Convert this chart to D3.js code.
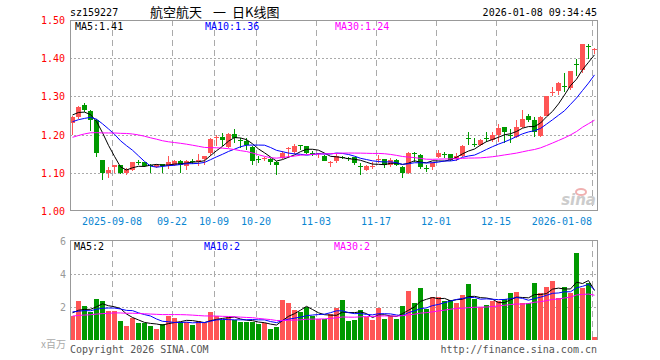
<!DOCTYPE html>
<html>
<head>
<meta charset="utf-8">
<script src="https://cdn.jsdelivr.net/npm/d3@7/dist/d3.min.js"></script>
<style>
  body { margin: 0; background: #fff; }
  text { font-family: "DejaVu Sans Mono", monospace; font-size: 10px; }
</style>
</head>
<body>
<div id="chart-area"></div>
<script>
const dates = ['2025-08-28','2025-08-29','2025-09-01','2025-09-02','2025-09-03','2025-09-04','2025-09-05','2025-09-08','2025-09-09','2025-09-10',
  '2025-09-11','2025-09-12','2025-09-15','2025-09-16','2025-09-17','2025-09-18','2025-09-19','2025-09-22','2025-09-23','2025-09-24',
  '2025-09-25','2025-09-26','2025-09-29','2025-09-30','2025-10-09','2025-10-10','2025-10-13','2025-10-14','2025-10-15','2025-10-16',
  '2025-10-17','2025-10-20','2025-10-21','2025-10-22','2025-10-23','2025-10-24','2025-10-27','2025-10-28','2025-10-29','2025-10-30',
  '2025-10-31','2025-11-03','2025-11-04','2025-11-05','2025-11-06','2025-11-07','2025-11-10','2025-11-11','2025-11-12','2025-11-13',
  '2025-11-14','2025-11-17','2025-11-18','2025-11-19','2025-11-20','2025-11-21','2025-11-24','2025-11-25','2025-11-26','2025-11-27',
  '2025-11-28','2025-12-01','2025-12-02','2025-12-03','2025-12-04','2025-12-05','2025-12-08','2025-12-09','2025-12-10','2025-12-11',
  '2025-12-12','2025-12-15','2025-12-16','2025-12-17','2025-12-18','2025-12-19','2025-12-22','2025-12-23','2025-12-24','2025-12-25',
  '2025-12-26','2025-12-29','2025-12-30','2025-12-31','2026-01-05','2026-01-06','2026-01-07','2026-01-08'];

const open = [1.23,1.245,1.277,1.262,1.238,1.134,1.10,1.114,1.12,1.10,
  1.107,1.128,1.128,1.12,1.116,1.122,1.118,1.121,1.132,1.117,
  1.131,1.127,1.135,1.151,1.19,1.195,1.168,1.202,1.186,1.183,
  1.168,1.136,1.136,1.137,1.129,1.138,1.162,1.155,1.173,1.17,
  1.153,1.15,1.145,1.125,1.13,1.142,1.139,1.141,1.117,1.107,
  1.115,1.133,1.135,1.12,1.134,1.116,1.10,1.152,1.147,1.113,
  1.116,1.142,1.15,1.149,1.135,1.144,1.19,1.176,1.173,1.19,
  1.186,1.199,1.219,1.20,1.193,1.221,1.249,1.238,1.196,1.249,
  1.31,1.315,1.326,1.321,1.386,1.369,1.433,1.421];

const high = [1.25,1.276,1.282,1.265,1.24,1.134,1.116,1.121,1.12,1.113,
  1.128,1.133,1.128,1.122,1.123,1.124,1.144,1.133,1.133,1.133,
  1.136,1.148,1.145,1.19,1.198,1.205,1.205,1.215,1.19,1.19,
  1.17,1.145,1.142,1.14,1.13,1.158,1.168,1.175,1.174,1.17,
  1.158,1.153,1.146,1.13,1.15,1.145,1.142,1.142,1.125,1.12,
  1.127,1.147,1.137,1.138,1.135,1.117,1.155,1.154,1.148,1.12,
  1.129,1.16,1.155,1.15,1.151,1.172,1.208,1.19,1.188,1.208,
  1.208,1.227,1.219,1.215,1.238,1.264,1.254,1.245,1.25,1.302,
  1.325,1.339,1.362,1.367,1.397,1.437,1.437,1.426];

const low = [1.20,1.24,1.26,1.21,1.142,1.081,1.087,1.099,1.097,1.094,
  1.105,1.12,1.115,1.10,1.113,1.10,1.111,1.117,1.10,1.107,
  1.124,1.118,1.12,1.145,1.17,1.17,1.165,1.178,1.165,1.16,
  1.12,1.125,1.13,1.12,1.095,1.135,1.14,1.15,1.16,1.15,
  1.145,1.14,1.13,1.115,1.125,1.135,1.132,1.12,1.094,1.105,
  1.11,1.125,1.113,1.116,1.118,1.086,1.098,1.129,1.11,1.103,
  1.107,1.14,1.138,1.13,1.132,1.142,1.173,1.167,1.171,1.181,
  1.181,1.18,1.179,1.179,1.19,1.217,1.234,1.195,1.195,1.249,
  1.301,1.304,1.312,1.317,1.353,1.36,1.397,1.411];

const close = [1.247,1.273,1.264,1.238,1.151,1.099,1.107,1.12,1.10,1.111,
  1.128,1.126,1.118,1.117,1.121,1.118,1.128,1.13,1.121,1.131,
  1.129,1.134,1.143,1.188,1.195,1.186,1.202,1.19,1.183,1.173,
  1.132,1.134,1.14,1.128,1.12,1.151,1.165,1.17,1.171,1.151,
  1.151,1.153,1.132,1.129,1.144,1.141,1.138,1.125,1.116,1.118,
  1.117,1.135,1.12,1.134,1.12,1.099,1.153,1.151,1.116,1.112,
  1.125,1.151,1.149,1.134,1.144,1.17,1.188,1.175,1.186,1.189,
  1.198,1.217,1.208,1.199,1.219,1.241,1.238,1.208,1.245,1.301,
  1.312,1.336,1.325,1.367,1.385,1.437,1.432,1.423];

// volume, millions
const volume = [1.45,2.36,2.06,1.72,2.48,2.36,1.76,1.76,1.15,0.85,
  1.31,1.01,1.01,0.85,0.67,0.97,1.47,1.33,1.11,1.07,
  0.91,1.17,1.01,1.70,1.45,1.21,1.40,1.20,1.10,1.10,
  1.07,0.97,1.01,0.67,0.81,2.42,2.26,1.82,1.72,1.98,
  1.47,1.25,1.25,1.58,1.94,2.42,1.15,1.21,1.82,1.41,
  1.21,1.94,1.27,1.45,1.27,2.06,2.97,2.26,3.15,1.90,
  2.60,2.60,2.36,2.42,2.24,2.73,3.39,2.46,2.02,2.12,
  2.36,2.36,2.48,2.87,2.93,2.24,2.26,3.47,2.87,3.23,
  3.58,2.57,3.21,2.87,5.29,3.17,3.47,0.20];

// sessions before the first visible day (only feed the moving averages)
const prevClose = [1.13,1.14,1.15,1.14,1.12,1.11,1.12,1.13,1.12,
  1.17,1.20,1.22,1.24,1.23,1.24,
  1.21,1.19,1.18,1.20,1.21,1.22,1.23,1.21,1.20,1.22,
  1.24,1.26,1.27,1.24];
const prevVolume = [1.2,1.4,1.1,1.3,1.5,1.2,1.0,1.3,1.4,1.2,
  1.5,1.6,1.3,1.2,1.4,1.5,1.3,1.2,1.4,1.5,
  1.9,1.7,1.8,1.6,1.75,1.6,1.8,1.7,1.7];

const priceTicks = [1.00, 1.10, 1.20, 1.30, 1.40, 1.50];
const volTicks = [2, 4, 6];
const dateTicks = ['2025-09-08','2025-09-22','2025-10-09','2025-10-20','2025-11-03','2025-11-17','2025-12-01','2025-12-15','2026-01-08'];
const maPeriods = [5, 10, 30];
const maColors = ['#000000', '#0000ff', '#ff00ff'];
const priceLegend = ['MA5:1.41', 'MA10:1.36', 'MA30:1.24'];
const volLegend = ['MA5:2', 'MA10:2', 'MA30:2'];
const titleParts = ['航空航天', '一', '日K线图'];

const RED = '#ff5555', GREEN = '#009900', GRID = '#aaaaaa', BORDER = '#999999';

const svg = d3.select('#chart-area').append('svg')
  .attr('width', 660).attr('height', 360)
  .style('display', 'block');

const left = 70, right = 597;
const x = d3.scaleBand().domain(dates).range([left, left + dates.length * 6]);
const y = d3.scaleLinear().domain([1.0, 1.5]).range([211, 20]);
const yv = d3.scaleLinear().domain([0, 6]).range([340, 241]);
const cx = d => x(d) + 2.5;

function movingAvg(prev, cur, n) {
  const all = prev.concat(cur);
  return cur.map((_, i) => d3.mean(all.slice(prev.length + i - n + 1, prev.length + i + 1)));
}

// header
svg.append('text').attr('x', 70).attr('y', 16).text('sz159227');
const titleX = [150, 213, 232];
titleParts.forEach((t, i) => {
  svg.append('text').attr('x', titleX[i]).attr('y', 17)
    .style('font-family', '"Noto Sans CJK SC", sans-serif').style('font-size', '13px')
    .text(t);
});
svg.append('text').attr('x', 597).attr('y', 16).attr('text-anchor', 'end').text('2026-01-08 09:34:45');

// grids
const grid = svg.append('g').attr('shape-rendering', 'crispEdges');
grid.selectAll('.hp').data(priceTicks.slice(1, -1)).enter().append('line')
  .attr('x1', left).attr('x2', right)
  .attr('y1', d => Math.round(y(d)) + 0.5).attr('y2', d => Math.round(y(d)) + 0.5)
  .attr('stroke', GRID).attr('stroke-dasharray', '2,2');
grid.selectAll('.hv').data(volTicks.slice(0, -1)).enter().append('line')
  .attr('x1', left).attr('x2', right)
  .attr('y1', d => Math.round(yv(d)) + 0.5).attr('y2', d => Math.round(yv(d)) + 0.5)
  .attr('stroke', GRID).attr('stroke-dasharray', '2,2');
dateTicks.forEach(d => {
  [[20, 211], [241, 340]].forEach(r => {
    grid.append('line').attr('x1', x(d) + 0.5).attr('x2', x(d) + 0.5)
      .attr('y1', r[0]).attr('y2', r[1])
      .attr('stroke', GRID).attr('stroke-dasharray', '6,4');
  });
});

// sina mark
svg.append('ellipse').attr('cx', 581).attr('cy', 192).attr('rx', 5).attr('ry', 3)
  .attr('fill', 'none').attr('stroke', '#f0b0b0').attr('stroke-width', 2);
svg.append('text').attr('x', 596).attr('y', 205).attr('text-anchor', 'end')
  .style('font-family', '"DejaVu Sans", sans-serif').style('font-size', '15px')
  .style('font-style', 'italic').style('font-weight', 'bold')
  .attr('fill', '#cccccc').text('sina');

// candles
const candles = svg.append('g').attr('shape-rendering', 'crispEdges');
dates.forEach((d, i) => {
  const c = close[i] >= open[i] ? RED : GREEN;
  candles.append('line')
    .attr('x1', cx(d)).attr('x2', cx(d))
    .attr('y1', y(high[i])).attr('y2', y(low[i]))
    .attr('stroke', c);
  const top = y(Math.max(open[i], close[i]));
  const h = Math.max(1, Math.abs(y(open[i]) - y(close[i])));
  candles.append('rect')
    .attr('x', x(d)).attr('y', top)
    .attr('width', 5).attr('height', h)
    .attr('fill', c);
});

// volume bars
const vbars = svg.append('g').attr('shape-rendering', 'crispEdges');
vbars.selectAll('rect').data(dates).enter().append('rect')
  .attr('x', d => x(d)).attr('width', 5)
  .attr('y', (d, i) => yv(volume[i]))
  .attr('height', (d, i) => yv(0) - yv(volume[i]))
  .attr('fill', (d, i) => close[i] >= open[i] ? RED : GREEN);

// moving averages
maPeriods.forEach((n, k) => {
  const pm = movingAvg(prevClose, close, n);
  svg.append('path')
    .attr('d', d3.line().x((v, i) => cx(dates[i])).y(v => y(v))(pm))
    .attr('fill', 'none').attr('stroke', maColors[k]).attr('stroke-width', 1);
  const vm = movingAvg(prevVolume, volume, n);
  svg.append('path')
    .attr('d', d3.line().x((v, i) => cx(dates[i])).y(v => yv(v))(vm))
    .attr('fill', 'none').attr('stroke', maColors[k]).attr('stroke-width', 1);
});

// borders
const frame = svg.append('g').attr('shape-rendering', 'crispEdges')
  .attr('fill', 'none').attr('stroke', BORDER);
frame.append('rect').attr('x', left + 0.5).attr('y', 20.5).attr('width', right - left).attr('height', 190);
frame.append('path').attr('d', `M${left + 0.5},340 V240.5 H${right + 0.5} V340`);

// axis labels
svg.selectAll('.pl').data(priceTicks).enter().append('text')
  .attr('x', 65).attr('y', d => y(d) + 4).attr('text-anchor', 'end')
  .attr('fill', '#ff0000').text(d => d.toFixed(2));
svg.selectAll('.vl').data(volTicks).enter().append('text')
  .attr('x', 66).attr('y', d => yv(d) + 4).attr('text-anchor', 'end')
  .attr('fill', '#999999').text(d => d);
const lastTick = dateTicks.length - 1;
svg.selectAll('.dl').data(dateTicks).enter().append('text')
  .attr('x', (d, i) => i === lastTick ? x(d) : x(d))
  .attr('y', 225)
  .attr('text-anchor', (d, i) => i === lastTick ? 'end' : 'middle')
  .attr('fill', '#0a86d2')
  .text((d, i) => (i === 0 || i === lastTick) ? d : d.slice(5));

// legends
const legendX = [75, 205, 335];
priceLegend.forEach((t, k) => {
  svg.append('text').attr('x', legendX[k]).attr('y', 30).attr('fill', maColors[k]).text(t);
});
volLegend.forEach((t, k) => {
  svg.append('text').attr('x', legendX[k] - 1).attr('y', 250).attr('fill', maColors[k]).text(t);
});

// footer
svg.append('text').attr('x', 66).attr('y', 348).attr('text-anchor', 'end')
  .attr('fill', '#aaaaaa').style('font-family', '"Noto Sans CJK SC", sans-serif')
  .text('x百万');
svg.append('text').attr('x', 70).attr('y', 353).attr('fill', '#555555').text('Copyright 2026 SINA.COM');
svg.append('text').attr('x', 597).attr('y', 353).attr('text-anchor', 'end').attr('fill', '#555555')
  .text('http://finance.sina.com.cn');
</script>
</body>
</html>
